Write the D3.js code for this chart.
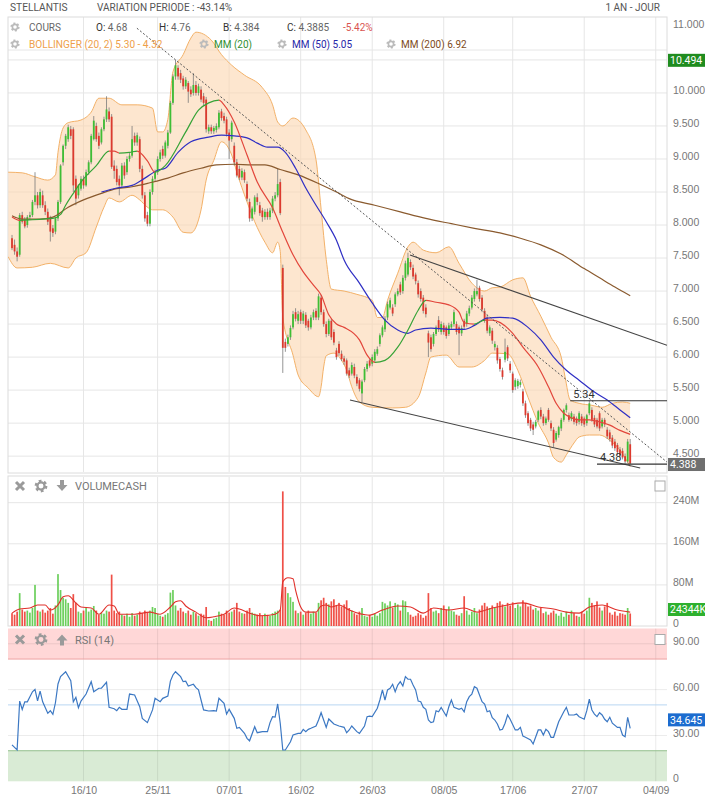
<!DOCTYPE html>
<html>
<head>
<meta charset="utf-8">
<script src="https://d3js.org/d3.v7.min.js"></script>
<style>
  body { margin: 0; background: #fff; }
  svg { font-family: Roboto, "Helvetica Neue", Arial, sans-serif; }
  .axis text { fill: #777; font-size: 10.5px; }
  .axis path { display: none; }
</style>
</head>
<body>
<script>
// daily candles (index 0 = first session shown)
var open = [
  7.80,7.70,7.60,7.55,8.15,8.08,8.00,8.12,8.15,8.35,
  8.45,8.30,8.45,8.30,8.20,8.10,7.95,7.90,8.10,8.35,
  8.95,9.20,9.30,9.45,9.45,8.70,8.45,8.55,8.70,8.60,
  8.80,8.95,9.30,9.50,9.35,9.25,9.45,9.60,9.72,9.64,
  8.90,8.85,8.70,8.60,8.90,8.80,9.00,9.05,9.35,9.25,
  9.30,8.85,8.45,8.15,8.02,8.50,8.70,8.80,9.00,9.15,
  9.05,9.20,9.40,9.85,10.25,10.38,10.30,10.22,10.10,10.15,
  10.05,10.00,10.12,10.00,10.05,9.95,9.90,9.42,9.48,9.42,
  9.44,9.48,9.72,9.65,9.60,9.40,9.30,9.20,8.95,8.85,
  8.72,8.80,8.62,8.35,8.10,8.20,8.42,8.30,8.22,8.12,
  8.20,8.12,8.22,8.40,8.45,8.65,7.35,6.23,6.20,6.30,
  6.45,6.68,6.55,6.68,6.55,6.64,6.55,6.45,6.60,6.70,
  6.60,6.90,6.68,6.50,6.35,6.55,6.38,6.10,6.20,6.05,
  5.98,5.95,5.80,5.75,5.85,5.70,5.65,5.45,5.65,5.82,
  5.95,5.90,5.95,6.05,6.20,6.33,6.42,6.60,6.75,6.75,
  6.80,6.95,7.10,7.00,7.20,7.25,7.44,7.35,7.25,7.12,
  7.00,6.90,6.75,6.36,6.30,6.20,6.35,6.56,6.38,6.48,
  6.45,6.35,6.45,6.50,6.50,6.45,6.36,6.55,6.50,6.66,
  6.75,6.88,6.95,7.05,6.90,6.70,6.60,6.36,6.40,6.15,
  6.14,5.97,5.80,5.96,6.15,5.90,5.75,5.55,5.56,5.58,
  5.48,5.30,5.15,5.05,4.98,4.95,5.05,5.20,5.10,5.00,
  5.20,5.00,4.90,4.75,4.82,4.92,5.05,5.20,5.12,5.06,
  5.10,5.07,5.02,5.10,5.07,5.00,5.15,5.20,5.08,5.05,
  5.15,4.95,5.05,4.90,4.86,4.78,4.72,4.67,4.60,4.58,
  4.50,4.42,4.68
];
var high = [
  7.85,7.78,7.66,8.18,8.20,8.12,8.15,8.20,8.38,8.80,
  8.50,8.55,8.52,8.36,8.25,8.14,8.00,8.12,8.38,8.92,
  9.22,9.38,9.52,9.50,9.48,8.75,8.62,8.74,8.75,8.84,
  8.98,9.38,9.65,9.55,9.40,9.48,9.64,9.95,9.78,9.68,
  8.98,8.90,8.75,8.94,8.95,9.04,9.10,9.50,9.40,9.40,
  9.34,8.90,8.50,8.20,8.54,8.74,8.84,9.04,9.14,9.20,
  9.28,9.44,9.88,10.28,10.50,10.42,10.35,10.26,10.24,10.18,
  10.10,10.30,10.18,10.14,10.10,10.00,9.94,9.52,9.52,9.50,
  9.54,9.74,9.76,9.70,9.64,9.45,9.58,9.25,9.00,8.90,
  8.86,8.84,8.66,8.40,8.28,8.45,8.48,8.35,8.26,8.24,
  8.25,8.26,8.44,8.50,8.85,8.70,7.40,6.28,6.34,6.48,
  6.70,6.74,6.70,6.72,6.70,6.68,6.58,6.64,6.72,6.74,
  6.96,6.94,6.72,6.54,6.58,6.58,6.42,6.14,6.24,6.10,
  6.02,5.98,5.84,5.92,5.90,5.74,5.68,5.66,5.85,5.94,
  5.98,6.04,6.12,6.16,6.36,6.48,6.62,6.84,6.90,6.80,
  6.98,7.04,7.14,7.24,7.46,7.58,7.48,7.40,7.28,7.16,
  7.04,6.94,6.80,6.40,6.34,6.38,6.48,6.62,6.54,6.52,
  6.48,6.52,6.54,6.72,6.54,6.48,6.48,6.58,6.70,6.78,
  6.94,7.04,7.17,7.08,6.94,6.74,6.64,6.48,6.44,6.24,
  6.18,6.00,5.84,6.28,6.18,5.94,5.78,5.68,5.67,5.66,
  5.52,5.34,5.18,5.08,5.02,5.05,5.20,5.24,5.14,5.10,
  5.23,5.04,4.94,4.88,4.96,5.08,5.22,5.30,5.16,5.18,
  5.14,5.10,5.18,5.14,5.10,5.14,5.34,5.24,5.12,5.08,
  5.18,5.08,5.08,4.94,4.90,4.82,4.76,4.70,4.64,4.62,
  4.54,4.76,4.76
];
var low = [
  7.62,7.55,7.45,7.52,8.02,7.95,7.96,8.08,8.12,8.30,
  8.25,8.26,8.26,8.15,8.00,7.75,7.82,7.86,8.06,8.32,
  8.90,9.15,9.26,9.30,8.50,8.30,8.40,8.52,8.55,8.58,
  8.76,8.92,9.28,9.26,9.15,9.22,9.42,9.56,9.56,8.85,
  8.70,8.60,8.45,8.56,8.70,8.76,8.96,9.02,9.20,9.20,
  8.80,8.40,8.05,7.98,7.98,8.46,8.66,8.76,8.96,9.00,
  9.02,9.16,9.38,9.82,10.20,10.20,10.15,10.05,10.06,9.85,
  9.94,9.96,9.96,9.96,9.86,9.80,9.40,9.38,9.38,9.38,
  9.40,9.45,9.58,9.54,9.34,9.00,9.26,8.90,8.72,8.68,
  8.68,8.64,8.36,8.05,8.06,8.16,8.30,8.14,8.05,8.08,
  8.08,8.08,8.18,8.36,8.42,8.15,5.76,6.08,6.16,6.26,
  6.42,6.54,6.50,6.50,6.50,6.44,6.40,6.42,6.56,6.56,
  6.56,6.64,6.46,6.30,6.32,6.26,6.18,5.96,6.02,5.94,
  5.88,5.72,5.68,5.72,5.68,5.56,5.48,5.32,5.62,5.78,
  5.84,5.86,5.92,6.02,6.16,6.30,6.38,6.56,6.72,6.62,
  6.76,6.92,6.94,6.96,7.16,7.22,7.32,7.18,7.10,6.90,
  6.84,6.66,6.60,6.00,6.08,6.16,6.32,6.38,6.34,6.34,
  6.28,6.32,6.42,6.46,6.34,6.03,6.32,6.42,6.46,6.62,
  6.72,6.84,6.92,6.84,6.68,6.52,6.36,6.32,6.20,6.10,
  5.90,5.78,5.66,5.92,5.94,5.76,5.46,5.50,5.52,5.54,
  5.26,5.08,4.96,4.88,4.82,4.92,5.02,5.06,4.96,4.97,
  5.02,4.88,4.64,4.72,4.78,4.88,5.02,5.16,5.02,5.03,
  4.98,4.96,4.98,4.96,4.94,4.96,5.12,5.02,4.94,4.92,
  4.88,4.92,4.94,4.76,4.72,4.62,4.58,4.52,4.48,4.45,
  4.38,4.40,4.384
];
var close = [
  7.65,7.60,7.52,8.15,8.05,7.98,8.12,8.15,8.35,8.45,
  8.30,8.50,8.30,8.20,8.05,7.90,7.88,8.10,8.35,8.90,
  9.20,9.35,9.48,9.35,8.60,8.40,8.60,8.70,8.60,8.80,
  8.95,9.35,9.58,9.30,9.20,9.45,9.60,9.75,9.60,8.88,
  8.82,8.65,8.60,8.90,8.75,9.00,9.05,9.30,9.25,9.36,
  8.85,8.45,8.10,8.02,8.50,8.70,8.80,9.00,9.10,9.05,
  9.25,9.40,9.85,10.25,10.42,10.25,10.20,10.10,10.20,10.02,
  9.98,10.12,10.00,10.10,9.90,9.85,9.45,9.48,9.42,9.47,
  9.50,9.70,9.62,9.58,9.38,9.28,9.55,8.95,8.75,8.72,
  8.82,8.68,8.40,8.10,8.25,8.42,8.35,8.18,8.12,8.20,
  8.12,8.22,8.40,8.45,8.62,8.18,6.14,6.14,6.30,6.44,
  6.65,6.58,6.65,6.55,6.66,6.48,6.45,6.60,6.68,6.60,
  6.92,6.68,6.50,6.35,6.55,6.30,6.22,6.00,6.06,5.97,
  5.93,5.75,5.72,5.88,5.72,5.60,5.52,5.63,5.82,5.90,
  5.87,6.00,6.08,6.12,6.33,6.45,6.58,6.80,6.86,6.66,
  6.95,7.00,6.98,7.20,7.42,7.50,7.36,7.22,7.15,6.95,
  6.88,6.70,6.65,6.22,6.12,6.35,6.45,6.42,6.50,6.38,
  6.32,6.48,6.50,6.68,6.38,6.36,6.44,6.46,6.66,6.74,
  6.90,7.00,7.00,6.88,6.72,6.55,6.40,6.45,6.25,6.20,
  5.95,5.82,5.70,6.08,5.98,5.80,5.50,5.65,5.64,5.62,
  5.30,5.12,5.00,4.92,4.90,5.02,5.18,5.10,5.00,5.07,
  5.05,4.92,4.70,4.85,4.94,5.05,5.20,5.27,5.05,5.15,
  5.02,5.00,5.15,5.00,4.98,5.12,5.30,5.05,4.98,4.95,
  4.92,5.05,4.98,4.80,4.76,4.66,4.62,4.56,4.52,4.48,
  4.42,4.72,4.3885
];
// traded capital per session, millions
var volume = [
  25,22,28,64,32,28,30,26,35,80,
  30,28,32,26,30,35,24,40,101,70,
  55,52,45,35,62,45,28,25,30,35,
  28,32,39,30,22,25,24,30,28,100,
  30,25,28,22,20,24,18,25,20,22,
  28,25,30,26,30,37,35,24,20,18,
  22,25,65,70,40,30,35,28,25,30,
  22,28,25,20,24,22,37,12,10,14,
  16,28,24,22,30,26,28,32,45,28,
  25,24,30,35,26,24,22,25,20,24,
  22,20,25,28,30,32,262,76,64,56,
  47,30,25,28,22,26,30,24,28,26,
  45,50,55,45,42,48,52,40,45,38,
  42,50,35,30,25,22,28,35,20,18,
  22,18,24,20,25,47,44,40,48,36,
  45,42,30,50,48,27,22,18,20,25,
  22,16,20,64,35,28,30,25,35,40,
  32,38,30,28,22,20,25,58,30,22,
  28,35,25,32,40,45,38,35,40,35,
  45,48,42,38,45,40,46,35,42,38,
  50,45,38,40,32,35,30,36,25,28,
  22,26,30,24,20,26,18,28,22,30,
  25,20,18,28,24,30,55,45,40,48,
  36,30,38,45,26,22,28,20,25,24,
  22,35,24.344
];

// indicator lines, [session index, value] read at intervals
var mm20 = [[0,8.12],[3,8.07],[8,8.08],[12,8.09],[16,8.10],[19,8.16],[21,8.30],[24,8.48],[27,8.65],
  [33,8.90],[38,9.12],[40,9.12],[42,9.09],[46,9.10],[49,9.12],[53,8.97],[56,8.80],[60,8.90],[68,9.41],
  [73,9.74],[77,9.85],[81,9.89],[83,9.82],[87,9.56],[92,9.06],[96,8.65],[102,8.26],[106,7.89],[110,7.55],
  [114,7.29],[118,7.09],[121,6.94],[124,6.64],[127,6.50],[130,6.45],[136,6.26],[139,6.03],[142,5.92],
  [146,5.95],[151,6.15],[155,6.41],[159,6.71],[162,6.86],[166,6.83],[171,6.79],[175,6.68],[177,6.52],
  [181,6.50],[185,6.56],[188,6.56],[196,6.36],[200,6.15],[206,5.85],[210,5.55],[213,5.30],[216,5.15],
  [219,5.08],[222,5.05],[226,5.05],[230,5.02],[234,4.97],[238,4.89],[242,4.83]];
var mm50 = [[35,8.50],[41,8.56],[47,8.60],[52,8.71],[57,8.83],[60,8.86],[65,9.10],[70,9.26],[77,9.33],
  [82,9.36],[87,9.35],[92,9.32],[96,9.24],[100,9.18],[104,9.18],[107,9.10],[111,8.86],[115,8.56],
  [119,8.30],[123,8.05],[127,7.77],[130,7.47],[136,7.12],[141,6.82],[146,6.56],[151,6.41],[155,6.36],
  [158,6.41],[164,6.44],[171,6.42],[177,6.42],[181,6.48],[186,6.59],[191,6.60],[196,6.59],[202,6.45],
  [207,6.26],[212,6.00],[217,5.80],[222,5.65],[228,5.47],[233,5.35],[238,5.20],[242,5.08]];
var mm200 = [[0,8.14],[4,8.09],[11,8.09],[16,8.12],[22,8.27],[28,8.38],[35,8.48],[41,8.55],[47,8.58],
  [54,8.64],[61,8.71],[67,8.79],[74,8.86],[80,8.91],[87,8.92],[94,8.91],[99,8.91],[105,8.84],[112,8.76],
  [121,8.61],[127,8.50],[132,8.40],[142,8.30],[152,8.20],[162,8.10],[172,8.02],[181,7.95],[191,7.88],
  [199,7.80],[207,7.70],[215,7.56],[224,7.34],[230,7.20],[236,7.06],[242,6.93]];
var bollUp = [[-1.5,8.80],[4,8.79],[9,8.73],[14,8.68],[17,8.76],[18,9.10],[20,9.47],[22,9.55],[27,9.59],
  [31,9.71],[34,9.92],[38,9.92],[43,9.82],[49,9.82],[55,9.77],[57,9.41],[59,9.41],[61,9.60],[63,10.32],
  [67,10.58],[70,10.83],[72,10.92],[78,10.80],[82,10.58],[86,10.42],[91,10.27],[98,10.08],[102,9.82],
  [104,9.56],[106,9.50],[110,9.62],[115,9.44],[119,8.99],[121,8.24],[123,7.48],[125,7.03],[130,7.00],
  [135,6.95],[141,6.86],[143,6.60],[145,6.60],[147,6.86],[151,7.27],[155,7.67],[157,7.74],[161,7.62],
  [166,7.58],[171,7.67],[175,7.42],[180,7.12],[185,7.00],[188,7.05],[191,7.06],[196,7.17],[200,7.20],
  [203,6.92],[207,6.62],[211,6.30],[215,6.00],[216.5,5.70],[218.5,5.35],[222,5.30],[227,5.27],
  [231,5.24],[235,5.30],[239,5.32],[242,5.30]];
var bollLow = [[-1.5,7.52],[2,7.35],[8,7.36],[15,7.42],[22,7.35],[25,7.50],[29,7.58],[33,7.97],[36,8.27],
  [38,8.41],[42,8.35],[47,8.45],[50,8.38],[53,8.27],[55,8.23],[59,8.23],[63,8.12],[67,7.89],[70,7.88],
  [74,8.23],[76,8.68],[79,8.98],[82,9.26],[86,9.06],[88,8.80],[92,8.35],[95,8.05],[99,7.74],[102,7.58],
  [104,7.74],[105,7.60],[106,6.60],[110,6.03],[112,5.73],[116,5.53],[120,5.40],[121,5.55],[122,5.85],
  [123,6.02],[126,6.06],[129,5.95],[131,5.80],[133,5.55],[136,5.32],[141,5.24],[149,5.23],[154,5.24],
  [159,5.39],[162,5.76],[164,6.00],[170,6.03],[175,5.85],[180,5.85],[185,5.95],[188,6.06],[194,6.05],
  [198,5.80],[202,5.39],[206,5.00],[210,4.70],[212,4.48],[215,4.41],[217,4.52],[220,4.70],[222,4.79],
  [226,4.82],[230,4.82],[234,4.74],[238,4.59],[242,4.34]];
var volMA = [[0,25],[3,33],[7,35],[10,41],[13,41],[15,31],[18,41],[20,57],[22,59],[25,45],[27,37],
  [31,35],[34,23],[38,41],[40,39],[42,23],[48,23],[54,27],[58,23],[62,37],[64,47],[66,49],[68,39],
  [72,27],[76,16],[79,18],[83,23],[87,35],[89,33],[93,25],[97,20],[103,23],[105,31],[106,86],[108,94],
  [110,92],[111,70],[113,37],[115,27],[119,27],[121,39],[123,41],[125,37],[128,41],[132,31],[140,21],
  [145,31],[151,39],[156,37],[161,25],[165,35],[171,31],[177,35],[182,27],[188,35],[194,41],[200,45],
  [206,37],[212,33],[217,27],[222,25],[226,37],[231,41],[237,31],[242,27]];
var rsi = [[0,23.8],[2,20.5],[3,52.5],[4,47],[5,52],[6,52],[8,58.6],[9,60.2],[10,52.7],[11,59],[12,52],
  [14,44.5],[15,46.2],[16,43.8],[17,51.4],[18,63.7],[19,68.5],[21,71.7],[23,65.8],[24,52],[25,55],
  [26,48.2],[27,52.5],[29,57.1],[31,65.2],[32,58.6],[34,60.9],[35,60.9],[37,64.8],[38,48.4],[40,47.5],
  [41,46.2],[42,48.4],[43,47.1],[45,47.1],[46,57.1],[48,56.5],[50,48.8],[51,41.2],[53,38.4],[55,46.7],
  [56,54.3],[58,52.1],[59,54.3],[61,55.8],[62,65.6],[63,69.6],[64,71.7],[66,68.5],[67,65.2],[68,65.5],
  [69,62.4],[71,63.5],[72,61.3],[73,59.8],[74,53.2],[75,46.7],[77,46],[79,46.2],[80,46],[81,54.3],
  [83,51],[84,44],[85,47.1],[87,41.2],[88,34.7],[89,35.3],[91,31.4],[92,28.1],[93,26.5],[95,35.7],
  [96,31.8],[98,32.5],[100,32.5],[101,38.4],[102,42.3],[103,42],[104,50.6],[105,38],[106,20.5],
  [107,20.5],[109,25.9],[110,30.3],[112,31.4],[113,31.4],[114,34],[115,32.5],[116,34],[117,34.7],
  [119,36.2],[120,40.1],[121,44.9],[123,35.3],[124,40.8],[126,37.5],[128,36.2],[130,35.3],[131,31.8],
  [132,33.6],[133,36.2],[135,32.5],[136,31.4],[138,36.2],[139,42.3],[140,42.7],[141,42.3],[143,47.8],
  [144,53.2],[145,59.8],[146,53.2],[147,59.8],[148,60.9],[149,63.5],[150,58.6],[151,63],[152,65.2],
  [153,62.4],[154,68.5],[155,66.8],[156,66.8],[157,63],[158,59.8],[159,52.5],[160,52.1],[161,48.4],
  [162,47.1],[163,40.1],[164,38.4],[165,39],[166,46.2],[167,45.5],[168,48.4],[169,45.5],[170,42.7],
  [171,48.8],[172,53.2],[173,48.4],[175,47.1],[176,47.8],[177,45.5],[178,52.1],[179,55.4],[180,57.1],
  [181,61.9],[182,60.9],[183,56.5],[184,52.1],[185,50.6],[186,45.5],[187,46.2],[188,41.6],[189,40.1],
  [190,37.5],[191,33.6],[192,34],[193,38],[194,43.4],[195,40.6],[197,33.6],[198,33.6],[199,35.3],
  [200,29.6],[201,28.8],[203,27],[204,24.4],[206,33.6],[207,33.6],[208,30.3],[209,34],[210,32.5],
  [211,28.8],[212,28.8],[214,39],[215,42.3],[216,45.5],[217,48.4],[218,43.4],[220,43.4],[221,44],
  [222,42.3],[224,40.6],[225,46.2],[226,53.7],[227,46.7],[228,44],[229,42.3],[230,44.9],[231,43.4],
  [232,40.6],[233,39],[234,41.9],[235,38],[237,35.3],[238,35.3],[239,30.3],[240,29.2],[241,41.9],
  [242,34.645]];

// hand drawn studies: [index, price] end points
var trendDotted = [[48.9,10.98],[256.4,4.41]];
var channelTop = [[155.8,7.545],[256.4,6.18]];
var channelBottom = [[132.3,5.35],[245.9,4.32]];
var levels = [{v:5.34, from:218.5, label:"5.34"}, {v:4.38, from:229, label:"4.38"}];

var dateTicks = [28,57,85,113,141,169,196,224,252];
var dateLabels = ["16/10","25/11","07/01","16/02","26/03","08/05","17/06","27/07","04/09"];
var priceTicks = [4.5,5,5.5,6,6.5,7,7.5,8,8.5,9,9.5,10,10.5,11];
var volTicks = [0,80,160,240];
var rsiTicks = [0,30,60,90];
var periodHigh = 10.494, lastVolume = 24.344;

var up = "#3fbe35", down = "#dc3a2e";
var L = 8, R = 667;

var svg = d3.select("body").append("svg").attr("width", 705).attr("height", 800);
var defs = svg.append("defs");

var x = d3.scaleLinear().domain([-1.57, 256.4]).range([L, R]);
var y = d3.scaleLinear().domain([4.26, 11.15]).range([472, 17]);
var yVol = d3.scaleLinear().domain([0, 290]).range([626, 477]);
var yRsi = d3.scaleLinear().domain([0, 100]).range([781.3, 628.5]);

var candles = close.map(function(c, i) {
  return {i: i, o: open[i], h: high[i], l: low[i], c: c, v: volume[i]};
});

defs.append("clipPath").attr("id", "clipMain")
  .append("rect").attr("x", L).attr("y", 17).attr("width", R - L).attr("height", 455);

// ---------- grids & panel frames ----------
var grid = svg.append("g").attr("stroke", "#e6e6e6").attr("stroke-width", 1);
[[17, 472], [477, 626]].forEach(function(p) {
  grid.selectAll(null).data(dateTicks).enter().append("line")
    .attr("x1", function(d) { return x(d); }).attr("x2", function(d) { return x(d); })
    .attr("y1", p[0]).attr("y2", p[1]);
});
grid.selectAll(null).data(priceTicks.filter(function(v) { return v <= 10.5; })).enter().append("line")
  .attr("x1", L).attr("x2", R).attr("y1", function(d) { return y(d); }).attr("y2", function(d) { return y(d); });
grid.selectAll(null).data(volTicks.slice(1)).enter().append("line")
  .attr("x1", L).attr("x2", R).attr("y1", function(d) { return yVol(d); }).attr("y2", function(d) { return yVol(d); });
grid.append("line").attr("x1", L).attr("x2", R).attr("y1", 50).attr("y2", 50);

var frames = svg.append("g").attr("fill", "none").attr("stroke", "#dcdcdc");
frames.append("rect").attr("x", L).attr("y", 17).attr("width", R - L).attr("height", 456);
frames.append("rect").attr("x", L).attr("y", 476).attr("width", R - L).attr("height", 150);

// ---------- main price panel ----------
var main = svg.append("g").attr("clip-path", "url(#clipMain)");

defs.append("clipPath").attr("id", "aboveLower").append("path")
  .attr("d", d3.area().x(function(d) { return x(d[0]); }).y0(0).y1(function(d) { return y(d[1]); })
    .curve(d3.curveMonotoneX)(bollLow));
main.append("path")
  .attr("clip-path", "url(#aboveLower)")
  .attr("d", d3.area().x(function(d) { return x(d[0]); }).y0(480).y1(function(d) { return y(d[1]); })
    .curve(d3.curveMonotoneX)(bollUp))
  .attr("fill", "#fbd5af").attr("fill-opacity", 0.6);

var smooth = d3.line().x(function(d) { return x(d[0]); }).y(function(d) { return y(d[1]); })
  .curve(d3.curveMonotoneX);
[bollUp, bollLow].forEach(function(b) {
  main.append("path").attr("d", smooth(b)).attr("fill", "none")
    .attr("stroke", "#f3b168").attr("stroke-width", 1);
});

var cg = main.append("g");
cg.selectAll("line").data(candles).enter().append("line")
  .attr("x1", function(d) { return x(d.i); }).attr("x2", function(d) { return x(d.i); })
  .attr("y1", function(d) { return y(d.h); }).attr("y2", function(d) { return y(d.l); })
  .attr("stroke", "#7a7a7a").attr("stroke-width", 0.8);
cg.selectAll("rect").data(candles).enter().append("rect")
  .attr("x", function(d) { return x(d.i) - 0.9; }).attr("width", 1.8)
  .attr("y", function(d) { return y(Math.max(d.o, d.c)); })
  .attr("height", function(d) { return Math.max(1, Math.abs(y(d.o) - y(d.c))); })
  .attr("fill", function(d) { return d.c >= d.o ? up : down; });

main.append("path").attr("d", smooth(mm200)).attr("fill", "none")
  .attr("stroke", "#8a5a2e").attr("stroke-width", 1.2);
main.append("path").attr("d", smooth(mm50)).attr("fill", "none")
  .attr("stroke", "#2f2fc4").attr("stroke-width", 1.2);

// MM20 turns green when rising, red when falling
var gx0 = x(mm20[0][0]), gx1 = x(mm20[mm20.length - 1][0]);
var grad = defs.append("linearGradient").attr("id", "mm20grad").attr("gradientUnits", "userSpaceOnUse")
  .attr("x1", gx0).attr("x2", gx1).attr("y1", 0).attr("y2", 0);
for (var k = 0; k < mm20.length - 1; k++) {
  var col = mm20[k + 1][1] > mm20[k][1] ? "#37a337" : "#e2463b";
  grad.append("stop").attr("offset", (x(mm20[k][0]) - gx0) / (gx1 - gx0)).attr("stop-color", col);
  grad.append("stop").attr("offset", (x(mm20[k + 1][0]) - gx0) / (gx1 - gx0)).attr("stop-color", col);
}
main.append("path").attr("d", smooth(mm20)).attr("fill", "none")
  .attr("stroke", "url(#mm20grad)").attr("stroke-width", 1.2);

var straight = d3.line().x(function(d) { return x(d[0]); }).y(function(d) { return y(d[1]); });
main.append("path").attr("d", straight(trendDotted)).attr("fill", "none")
  .attr("stroke", "#555").attr("stroke-width", 1).attr("stroke-dasharray", "2,2");
[channelTop, channelBottom].forEach(function(t) {
  main.append("path").attr("d", straight(t)).attr("fill", "none")
    .attr("stroke", "#444").attr("stroke-width", 1.1);
});
levels.forEach(function(l) {
  main.append("line").attr("x1", x(l.from)).attr("x2", R).attr("y1", y(l.v)).attr("y2", y(l.v))
    .attr("stroke", "#333").attr("stroke-width", 1.1);
  main.append("text").attr("x", x(l.from) + 3).attr("y", y(l.v) - 3)
    .attr("font-size", "11px").attr("fill", "#333").text(l.label);
});

// ---------- volume panel ----------
var vg = svg.append("g");
vg.selectAll("rect").data(candles).enter().append("rect")
  .attr("x", function(d) { return x(d.i) - 0.85; }).attr("width", 1.7)
  .attr("y", function(d) { return yVol(d.v); })
  .attr("height", function(d) { return yVol(0) - yVol(d.v); })
  .attr("fill", function(d) { return d.c >= d.o ? "#6ccf5c" : "#ef5047"; });
vg.append("path")
  .attr("d", d3.line().x(function(d) { return x(d[0]); }).y(function(d) { return yVol(d[1]); })
    .curve(d3.curveMonotoneX)(volMA))
  .attr("fill", "none").attr("stroke", "#e0302a").attr("stroke-width", 1.1);

// ---------- RSI panel ----------
var rg = svg.append("g");
rg.append("rect").attr("x", L).attr("width", R - L).attr("y", yRsi(100)).attr("height", yRsi(80) - yRsi(100))
  .attr("fill", "#ffd7d7");
rg.append("rect").attr("x", L).attr("width", R - L).attr("y", yRsi(20)).attr("height", yRsi(0) - yRsi(20))
  .attr("fill", "#d9ebd5");
rg.selectAll(null).data(dateTicks).enter().append("line")
  .attr("x1", function(d) { return x(d); }).attr("x2", function(d) { return x(d); })
  .attr("y1", yRsi(100)).attr("y2", yRsi(0)).attr("stroke", "#000").attr("stroke-opacity", 0.08);
rg.selectAll(null).data(rsiTicks.slice(1)).enter().append("line")
  .attr("x1", L).attr("x2", R).attr("y1", function(d) { return yRsi(d); }).attr("y2", function(d) { return yRsi(d); })
  .attr("stroke", "#000").attr("stroke-opacity", 0.08);
rg.append("line").attr("x1", L).attr("x2", R).attr("y1", yRsi(80)).attr("y2", yRsi(80))
  .attr("stroke", "#eea3a3");
rg.append("line").attr("x1", L).attr("x2", R).attr("y1", yRsi(20)).attr("y2", yRsi(20))
  .attr("stroke", "#93bf8c");
rg.append("line").attr("x1", L).attr("x2", R).attr("y1", yRsi(50)).attr("y2", yRsi(50))
  .attr("stroke", "#b9d6f2");
rg.append("path")
  .attr("d", d3.line().x(function(d) { return x(d[0]); }).y(function(d) { return yRsi(d[1]); })(rsi))
  .attr("fill", "none").attr("stroke", "#3c78c3").attr("stroke-width", 1.2);

// ---------- axes ----------
function rightAxis(scale, ticks, fmt) {
  svg.append("g").attr("class", "axis").attr("transform", "translate(" + R + ",0)")
    .call(d3.axisRight(scale).tickValues(ticks).tickFormat(fmt).tickSize(0).tickPadding(6))
    .selectAll("text").attr("dy", "0.06em");
}
// 10.500 sits under the period-high tag in the reference, so it gets no label
rightAxis(y, priceTicks.filter(function(v) { return v !== 10.5; }), d3.format(".3f"));
rightAxis(yVol, volTicks, function(d) { return d === 0 ? "0" : d + "M"; });
rightAxis(yRsi, rsiTicks, function(d) { return d === 0 ? "0" : d.toFixed(2); });
svg.append("g").attr("class", "axis").attr("transform", "translate(0,781)")
  .call(d3.axisBottom(x).tickValues(dateTicks).tickFormat(function(d, i) { return dateLabels[i]; })
    .tickSize(0).tickPadding(6));

function tag(yy, txt, fill) {
  svg.append("rect").attr("x", 668).attr("y", yy - 6.5).attr("width", 40).attr("height", 13).attr("fill", fill);
  svg.append("text").attr("x", 670).attr("y", yy).attr("dy", "0.35em").attr("fill", "#fff")
    .attr("font-size", "10.5px").text(txt);
}
tag(y(periodHigh), d3.format(".3f")(periodHigh), "#1f8c1f");
tag(y(close[close.length - 1]) + 1, "4.388", "#6f6f6f");
tag(yVol(lastVolume) - 4, Math.round(lastVolume * 1000) + "K", "#2eb02e");
tag(yRsi(rsi[rsi.length - 1][1]) - 8.5, d3.format(".3f")(rsi[rsi.length - 1][1]), "#1c6ccf");

// ---------- header & legend ----------
function gear(cx, cy, r, c) {
  svg.append("circle").attr("cx", cx).attr("cy", cy).attr("r", r).attr("fill", "none")
    .attr("stroke", c).attr("stroke-width", r * 0.55).attr("stroke-dasharray", (r * 0.52) + "," + (r * 0.52));
  svg.append("circle").attr("cx", cx).attr("cy", cy).attr("r", r * 0.72).attr("fill", "none")
    .attr("stroke", c).attr("stroke-width", r * 0.45);
}
function label(xx, yy, parts, size) {
  var t = svg.append("text").attr("x", xx).attr("y", yy).attr("font-size", size || "10px");
  parts.forEach(function(p) { t.append("tspan").attr("fill", p[1]).text(p[0]); });
}
label(10, 11, [["STELLANTIS", "#555"]], "10.2px");
label(97, 11, [["VARIATION PERIODE : -43.14%", "#555"]]);
svg.append("text").attr("x", 660).attr("y", 11).attr("text-anchor", "end")
  .attr("font-size", "10px").attr("fill", "#555").text("1 AN - JOUR");

gear(15, 27, 3.6, "#bbb");
label(29, 30.5, [["COURS", "#666"]]);
label(96, 30.5, [["O: ", "#333"], ["4.68", "#666"]]);
label(159, 30.5, [["H: ", "#333"], ["4.76", "#666"]]);
label(223, 30.5, [["B: ", "#333"], ["4.384", "#666"]]);
label(287, 30.5, [["C: ", "#333"], ["4.3885", "#666"]]);
label(343, 30.5, [["-5.42%", "#d9534f"]]);

gear(15, 44, 3.6, "#bbb");
label(29, 47.5, [["BOLLINGER (20, 2) 5.30 - 4.32", "#eea04a"]], "10.1px");
gear(204, 44, 3.6, "#bbb");
label(214, 47.5, [["MM (20)", "#318f31"]]);
gear(282, 44, 3.6, "#bbb");
label(292, 47.5, [["MM (50) 5.05", "#2626a8"]]);
gear(391, 44, 3.6, "#bbb");
label(401, 47.5, [["MM (200) 6.92", "#7d4b22"]]);

function panelHead(cy, txt, arrowUp) {
  svg.append("path").attr("d", "M16,"+(cy-4)+"L24,"+(cy+4)+"M24,"+(cy-4)+"L16,"+(cy+4))
    .attr("stroke", "#9a9a9a").attr("stroke-width", 3);
  gear(41, cy, 5, "#9a9a9a");
  var a = arrowUp
    ? "M60," + (cy + 6) + "h4v-5h3.5l-5.5,-6l-5.5,6h3.5z"
    : "M60," + (cy - 6) + "h4v5h3.5l-5.5,6l-5.5,-6h3.5z";
  svg.append("path").attr("d", a).attr("fill", "#9a9a9a");
  svg.append("text").attr("x", 75).attr("y", cy + 4).attr("font-size", "11px").attr("fill", "#777").text(txt);
  svg.append("rect").attr("x", 655).attr("y", cy - 5).attr("width", 10).attr("height", 10)
    .attr("fill", "#fff").attr("stroke", "#aaa");
}
panelHead(486, "VOLUMECASH", false);
panelHead(639.5, "RSI (14)", true);
</script>
</body>
</html>
